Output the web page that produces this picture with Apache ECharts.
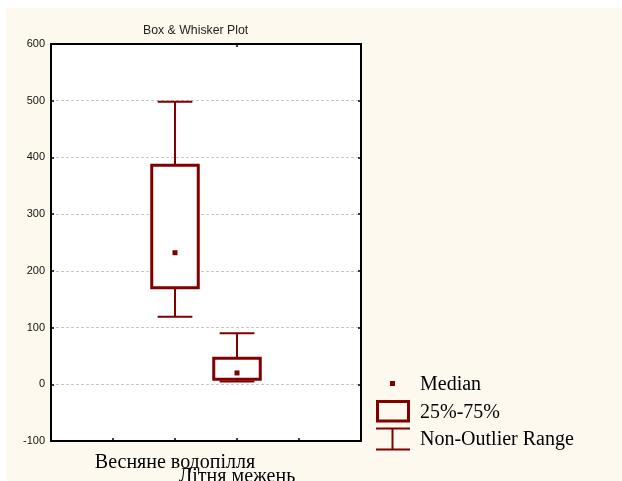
<!DOCTYPE html>
<html>
<head>
<meta charset="utf-8">
<script src="https://cdn.jsdelivr.net/npm/echarts@6/dist/echarts.min.js"></script>
<style>
  html, body { margin: 0; padding: 0; background: #ffffff; }
  #chart { position: absolute; left: 0; top: 0; width: 622px; height: 481px; }
</style>
</head>
<body>
<div id="chart"></div>
<script>
// Season groups and their box-and-whisker statistics
const categories = ['Весняне водопілля', 'Літня межень'];
const minValues = [119, 5];      // lower non-outlier bound
const q1Values = [170, 9];       // 25th percentile
const medianValues = [232, 20];  // median
const q3Values = [386, 46];      // 75th percentile
const maxValues = [498, 90];     // upper non-outlier bound

// Y axis ticks
const yTicks = [-100, 0, 100, 200, 300, 400, 500, 600];

// Horizontal slots: the groups sit on the 2nd and 3rd inner ticks of a five-interval axis
const xSlots = ['', '', categories[0], categories[1], '', ''];

const DARK_RED = '#800000';
const SERIF = '"Liberation Serif", "Times New Roman", serif';
const SANS = '"Liberation Sans", Arial, sans-serif';

const boxData = categories.map((c, i) => [c, minValues[i], q1Values[i], medianValues[i], q3Values[i], maxValues[i]]);

function renderBox(params, api) {
  const x = api.value(0);
  const pMin = api.coord([x, api.value(1)]);
  const pQ1 = api.coord([x, api.value(2)]);
  const pMed = api.coord([x, api.value(3)]);
  const pQ3 = api.coord([x, api.value(4)]);
  const pMax = api.coord([x, api.value(5)]);
  const slot = api.size([1, 0])[0];
  const halfBox = slot * 0.375;
  const halfCap = slot * 0.28;
  const cx = pMed[0];
  const wStyle = { stroke: DARK_RED, lineWidth: 2, fill: null };
  return {
    type: 'group',
    children: [
      { type: 'line', shape: { x1: cx, y1: pQ3[1], x2: cx, y2: pMax[1] }, style: wStyle },
      { type: 'line', shape: { x1: cx, y1: pQ1[1], x2: cx, y2: pMin[1] }, style: wStyle },
      { type: 'line', shape: { x1: cx - halfCap, y1: pMax[1], x2: cx + halfCap, y2: pMax[1] }, style: wStyle },
      { type: 'line', shape: { x1: cx - halfCap, y1: pMin[1], x2: cx + halfCap, y2: pMin[1] }, style: wStyle },
      { type: 'rect', shape: { x: cx - halfBox, y: pQ3[1], width: halfBox * 2, height: pQ1[1] - pQ3[1] },
        style: { stroke: DARK_RED, lineWidth: 3, fill: '#ffffff' } },
      { type: 'rect', shape: { x: cx - 2.5, y: pMed[1] - 2.5, width: 5, height: 5 },
        style: { fill: DARK_RED, stroke: null } }
    ]
  };
}

const chart = echarts.init(document.getElementById('chart'), null, { renderer: 'canvas' });

const axisLine = { show: true, onZero: false, lineStyle: { color: '#000000', width: 2 } };
const tickIn = { show: true, inside: true, length: 3, lineStyle: { color: '#000000', width: 1.5 } };

chart.setOption({
  animation: false,
  backgroundColor: 'transparent',
  title: {
    text: 'Box & Whisker Plot',
    left: 138, top: 20,
    textStyle: { fontFamily: SANS, fontSize: 12.3, fontWeight: 'normal', color: '#222222' }
  },
  grid: {
    left: 51, top: 44, width: 310, height: 397,
    containLabel: false, outerBoundsMode: 'none',
    show: true, backgroundColor: '#ffffff', borderWidth: 0
  },
  xAxis: [
    {
      type: 'category', data: xSlots, boundaryGap: false, position: 'bottom',
      axisLine: axisLine, axisTick: tickIn, splitLine: { show: false },
      axisLabel: {
        interval: 0, margin: 12, color: '#000000', fontFamily: SERIF, fontSize: 20,
        formatter: function (v) {
          if (v === categories[1]) return '{low|' + v + '}';
          return v;
        },
        rich: { low: { fontFamily: SERIF, fontSize: 20, color: '#000000', padding: [14, 0, 0, 0] } }
      }
    },
    {
      type: 'category', data: xSlots, boundaryGap: false, position: 'top',
      axisLine: axisLine, axisTick: tickIn, axisLabel: { show: false }, splitLine: { show: false }
    }
  ],
  yAxis: [
    {
      type: 'value', min: yTicks[0], max: yTicks[yTicks.length - 1], interval: 100, position: 'left',
      axisLine: axisLine, axisTick: tickIn,
      axisLabel: { margin: 6, color: '#111111', fontFamily: SANS, fontSize: 11 },
      splitLine: { show: true, lineStyle: { color: '#c8c8c8', type: [3, 2], width: 1 } }
    },
    {
      type: 'value', min: yTicks[0], max: yTicks[yTicks.length - 1], interval: 100, position: 'right',
      axisLine: axisLine, axisTick: tickIn, axisLabel: { show: false }, splitLine: { show: false }
    }
  ],
  graphic: [
    { type: 'rect', z: -10, silent: true, shape: { x: 6, y: 8, width: 616, height: 473 }, style: { fill: '#fdf9ef' } },
    // legend
    { type: 'rect', shape: { x: 390, y: 381, width: 5, height: 5 }, style: { fill: DARK_RED } },
    { type: 'text', x: 420, y: 385, style: { text: 'Median', font: '20px ' + SERIF, fill: '#000000', textVerticalAlign: 'middle' } },
    { type: 'rect', shape: { x: 377.5, y: 401.5, width: 31, height: 19.5 }, style: { fill: null, stroke: DARK_RED, lineWidth: 3 } },
    { type: 'text', x: 420, y: 413, style: { text: '25%-75%', font: '20px ' + SERIF, fill: '#000000', textVerticalAlign: 'middle' } },
    { type: 'line', shape: { x1: 376, y1: 428.5, x2: 410, y2: 428.5 }, style: { stroke: DARK_RED, lineWidth: 2 } },
    { type: 'line', shape: { x1: 376, y1: 449.5, x2: 410, y2: 449.5 }, style: { stroke: DARK_RED, lineWidth: 2 } },
    { type: 'line', shape: { x1: 392.5, y1: 428.5, x2: 392.5, y2: 449.5 }, style: { stroke: DARK_RED, lineWidth: 2 } },
    { type: 'text', x: 420, y: 440, style: { text: 'Non-Outlier Range', font: '20px ' + SERIF, fill: '#000000', textVerticalAlign: 'middle' } }
  ],
  series: [
    {
      type: 'custom', xAxisIndex: 0, yAxisIndex: 0,
      renderItem: renderBox,
      encode: { x: 0, y: [1, 2, 3, 4, 5] },
      data: boxData,
      clip: false
    }
  ]
});
</script>
</body>
</html>
